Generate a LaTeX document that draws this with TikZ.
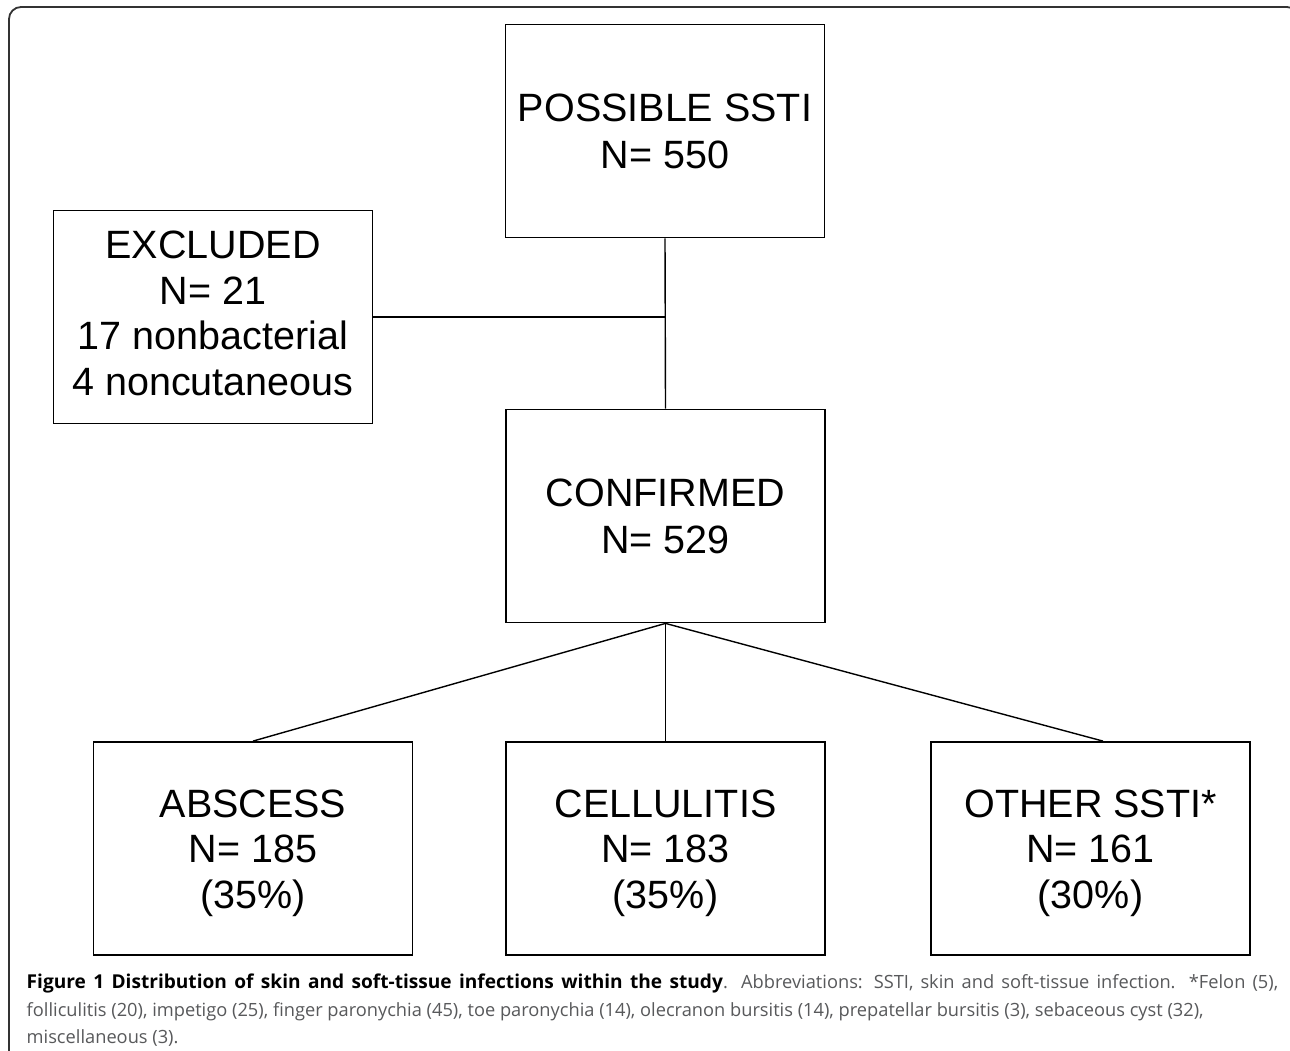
\documentclass[tikz,border=0pt]{standalone}
\usepackage{fontspec}
\setmainfont{Liberation Sans}
\newfontfamily\capfont{Open Sans}
\usetikzlibrary{calc}
\definecolor{capgray}{HTML}{58595B}
\newcommand{\bxl}[1]{\rule{0pt}{28.3pt}\smash{#1}}
\begin{document}
\begin{tikzpicture}[x=1pt,y=-1pt,
  box/.style={draw=black, line width=1.8pt, minimum width=319pt, minimum height=213pt,
    inner sep=0pt, align=center, font=\fontsize{39.5}{45.5}\selectfont},
  conn/.style={draw=black, line width=1.4pt},
  capline/.style={anchor=base west, inner sep=0pt, text=capgray,
    font=\capfont\fontsize{18.25}{27.5}\selectfont}]
\useasboundingbox (0,0) rectangle (1290,1051);
\fill[white] (0,0) rectangle (1290,1051);
\draw[line width=1.8pt, draw=black!80, rounded corners=12pt] (9,7) rectangle (1299,1070);

\node[box] (poss) at (665,131) {\bxl{POSSIBLE SSTI}\\[1pt]\bxl{N= 550}};
\node[box] (excl) at (213,317) {\bxl{EXCLUDED}\\\bxl{N= 21}\\\bxl{17 nonbacterial}\\\bxl{4 noncutaneous}\rule[-8pt]{0pt}{8pt}};
\node[box] (conf) at (665.5,516) {\bxl{CONFIRMED}\\[1pt]\bxl{N= 529}};
\node[box] (absc) at (253,848.5) {\bxl{ABSCESS}\\\bxl{N= 185}\\\bxl{(35\%)}};
\node[box] (cell) at (665.5,848.5) {\bxl{CELLULITIS}\\\bxl{N= 183}\\\bxl{(35\%)}};
\node[box] (othr) at (1090.5,848.5) {\bxl{OTHER SSTI*}\\\bxl{N= 161}\\\bxl{(30\%)}};

\coordinate (junc) at (poss.south |- excl.east);
\draw[conn] (poss.south) -- (conf.north);
\draw[conn] (excl.east) -- (junc);
\draw[conn] (conf.south) -- (absc.north);
\draw[conn] (conf.south) -- (cell.north);
\draw[conn] (conf.south) -- ([xshift=12.5pt]othr.north);

\node[capline] (cap1) at (26.5,988.3) {\makebox[1251.5pt][s]{\textcolor{black}{\fontsize{19.1}{27.5}\selectfont\bfseries Figure 1 Distribution of skin and soft-tissue infections within the study}. Abbreviations: SSTI, skin and soft-tissue infection. *Felon (5),}};
\node[capline] (cap2) at (26.5,1016) {folliculitis (20), impetigo (25), finger paronychia (45), toe paronychia (14), olecranon bursitis (14), prepatellar bursitis (3), sebaceous cyst (32),};
\node[capline] (cap3) at (26.5,1043.5) {miscellaneous (3).};
\end{tikzpicture}
\end{document}
